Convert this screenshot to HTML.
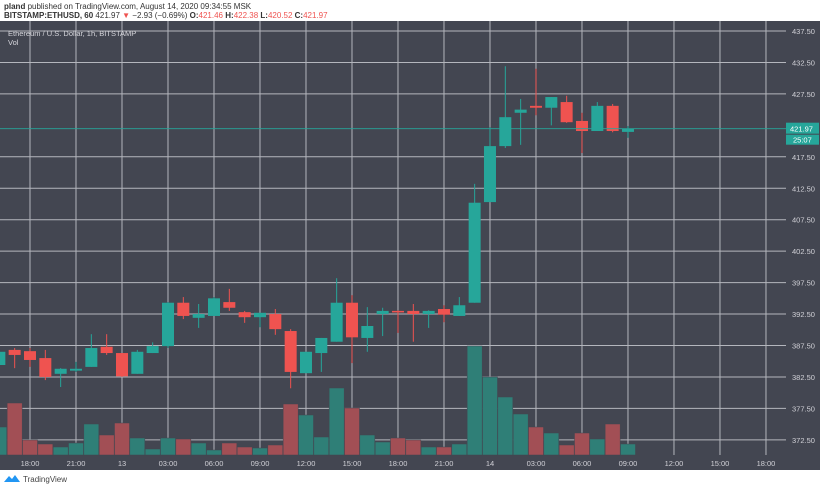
<!DOCTYPE html>
<html><head><meta charset="utf-8"><style>
body{margin:0;width:820px;height:489px;background:#fff;overflow:hidden;font-family:"Liberation Sans",sans-serif}
svg{position:absolute;left:0;top:0}
text{font-family:"Liberation Sans",sans-serif}
</style></head><body>
<svg width="820" height="489">
<text x="4" y="9" font-size="8" fill="#333"><tspan font-weight="bold">pland</tspan> published on TradingView.com, August 14, 2020 09:34:55 MSK</text>
<text x="4" y="18" font-size="8" fill="#333"><tspan font-weight="bold">BITSTAMP:ETHUSD, 60</tspan> 421.97 <tspan fill="#ef5350">▼</tspan> −2.93 (−0.69%) <tspan font-weight="bold">O:</tspan><tspan fill="#ef5350">421.46</tspan> <tspan font-weight="bold">H:</tspan><tspan fill="#ef5350">422.38</tspan> <tspan font-weight="bold">L:</tspan><tspan fill="#ef5350">420.52</tspan> <tspan font-weight="bold">C:</tspan><tspan fill="#ef5350">421.97</tspan></text>
<rect x="0" y="21" width="820" height="449" fill="#434651"/>
<g id="grid"></g><g id="vol"></g><g id="candles"></g><g id="axis"></g>
<text x="8" y="36" font-size="7.5" fill="#d6d6dc">Ethereum / U.S. Dollar, 1h, BITSTAMP</text>
<text x="8" y="45" font-size="7.5" fill="#d6d6dc">Vol</text>
<g><path d="M4 482 l5 -6 l3 3 l3 -4 l5 7 z" fill="#2196f3"/><text x="23" y="482" font-size="8" fill="#444">TradingView</text></g>
</svg>
<script>
const opens=[384.4,386.8,386.6,385.5,383.0,383.5,384.1,387.3,386.3,383.0,386.3,387.4,394.3,391.9,392.2,394.4,392.8,392.0,392.5,389.8,383.1,386.3,388.1,394.3,388.7,392.5,393.0,393.0,392.5,393.3,392.2,394.3,410.3,419.2,424.5,425.6,425.3,426.2,423.2,421.6,425.6,421.46];
const highs=[386.8,387.1,387.1,386.8,383.9,384.9,389.3,389.3,386.3,386.8,388.0,394.4,395.2,394.1,395.2,396.5,393.0,392.7,393.3,390.1,386.5,388.7,398.2,395.5,393.6,393.5,393.1,394.1,393.1,393.9,395.2,413.2,422.2,431.9,426.7,431.5,427.0,427.2,424.5,426.2,425.9,422.38];
const lows=[384.1,383.9,384.1,382.0,380.9,383.3,384.1,386.0,382.5,383.0,386.3,387.1,391.7,390.3,392.2,393.0,391.1,390.4,389.2,380.7,383.1,383.3,388.1,384.7,386.5,389.0,389.5,388.1,390.3,391.2,392.2,394.3,410.3,418.9,419.4,424.1,422.5,422.9,418.1,421.6,421.4,420.52];
const closes=[386.5,386.0,385.2,382.5,383.8,383.8,387.1,386.3,382.6,386.5,387.4,394.3,392.2,392.5,395.0,393.5,392.0,392.7,390.1,383.3,386.5,388.7,394.3,388.8,390.6,393.0,392.8,392.5,393.0,392.4,393.9,410.2,419.2,423.8,425.0,425.3,427.0,423.0,421.6,425.6,421.6,421.97];
const volumes=[28,52,15,11,8,12,31,20,32,17,6,17,16,12,5,12,8,7,10,51,40,18,67,47,20,13,17,15,8,8,11,109,78,58,41,28,22,10,22,16,31,11];
const priceTicks=[372.5,377.5,382.5,387.5,392.5,397.5,402.5,407.5,412.5,417.5,427.5,432.5,437.5];
const timeLabels=["18:00","21:00","13","03:00","06:00","09:00","12:00","15:00","18:00","21:00","14","03:00","06:00","09:00","12:00","15:00","18:00"];
const lastPrice=421.97;
const NS="http://www.w3.org/2000/svg";
const yP=p=>31+(437.5-p)*6.29;
const xI=i=>-0.67+i*15.333;
const yV=v=>455-v;
const GREEN="#26a69a",RED="#ef5350";
function mk(tag,attrs,parent){const e=document.createElementNS(NS,tag);for(const k in attrs)e.setAttribute(k,attrs[k]);document.getElementById(parent).appendChild(e);return e;}
priceTicks.forEach(p=>{
 const l=mk('line',{x1:0,x2:786,y1:yP(p),y2:yP(p),stroke:'#b4b6bd','stroke-width':1},'grid');
 
 
 const t=mk('text',{x:792,y:yP(p)+3,'font-size':7.5,fill:'#d0d0d6'},'axis');t.textContent=p.toFixed(2);
 
 
});
timeLabels.forEach((s,k)=>{
 const x=xI(2+3*k);
 const l=mk('line',{x1:x,x2:x,y1:21,y2:455,stroke:'#b4b6bd','stroke-width':1},'grid');
 
 
 const t=mk('text',{x:x,y:466,'font-size':7.5,fill:'#d0d0d6','text-anchor':'middle'},'axis');t.textContent=s;
 
 
});
volumes.forEach((v,i)=>{
 const up=closes[i]>=opens[i];
 const r=mk('rect',{x:xI(i)-7.5,y:yV(v),width:15,height:v,fill:up?'#2f7f77':'#a24f55',stroke:'#434651','stroke-width':0.5},'vol');
 
 
});
opens.forEach((o,i)=>{
 const c=closes[i],up=c>=o,col=up?GREEN:RED,x=xI(i);
 const w=mk('line',{x1:x,x2:x,y1:yP(highs[i]),y2:yP(lows[i]),stroke:col,'stroke-width':1},'candles');
 
 
 const top=yP(Math.max(o,c)),h=Math.max(1.5,yP(Math.min(o,c))-top);
 const b=mk('rect',{x:x-6,y:top,width:12,height:h,fill:col},'candles');
 
 
});
const ly=yP(lastPrice);
const pl=mk('line',{x1:0,x2:786,y1:ly,y2:ly,stroke:GREEN,'stroke-width':0.8},'axis');


const bx=mk('rect',{x:786,y:ly-6,width:33,height:11,fill:GREEN},'axis');


const bt=mk('text',{x:790,y:ly+3,'font-size':7.5,fill:'#fff'},'axis');bt.textContent=lastPrice.toFixed(2);


const cb=mk('rect',{x:786,y:ly+6,width:33,height:10,fill:GREEN},'axis');


const ct=mk('text',{x:793,y:ly+14,'font-size':7.5,fill:'#fff'},'axis');ct.textContent="25:07";


</script>
</body></html>
